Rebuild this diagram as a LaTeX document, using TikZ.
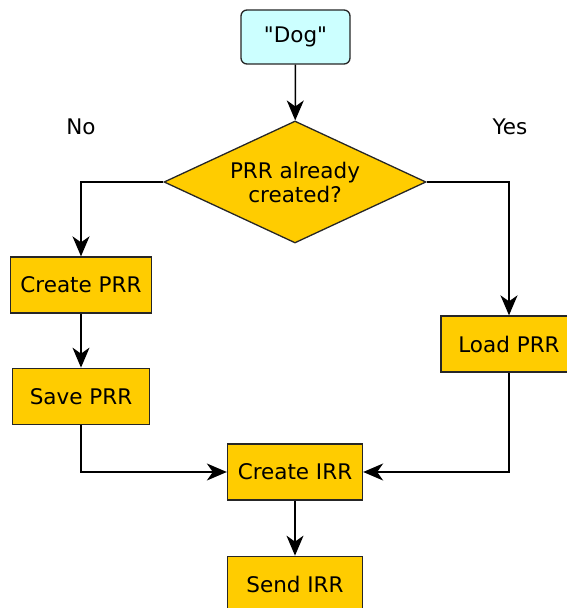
\documentclass[tikz,border=0pt]{standalone}
\usepackage{fontspec}
\setmainfont{DejaVu Sans}[Ligatures=TeXOff]
\usepackage{xcolor}
\usepackage{tikz}
\usetikzlibrary{arrows.meta,positioning,shapes.geometric}
\definecolor{boxyellow}{RGB}{255,204,0}
\definecolor{startcyan}{RGB}{204,255,255}
\tikzstyle{startbox}=[rectangle, rounded corners=6pt, draw=black!85, fill=startcyan,
  minimum width=109pt, minimum height=54pt, line width=1.3pt]
\tikzstyle{proc}=[rectangle, draw=black!85, fill=boxyellow,
  minimum height=56pt, line width=1.3pt, inner sep=0pt]
\tikzstyle{dec}=[diamond, draw=black!85, fill=boxyellow, aspect=2.15,
  minimum width=262pt, minimum height=122pt, inner sep=0pt, align=center, line width=1.3pt]
\tikzstyle{arrow}=[-{Stealth[length=20pt,width=17pt,inset=6pt]}, line width=1.5pt]

\begin{document}
\begin{tikzpicture}[x=1pt,y=1pt,font=\fontsize{21.5}{24}\selectfont]
\useasboundingbox (0,0) rectangle (567,608);
\node (start) [startbox] at (295.5,571) {"Dog"};
\node (dec) [dec] at (295,426) {PRR already\\created?};
\node (cprr) [proc, minimum width=141pt] at (81,323) {Create PRR};
\node (sprr) [proc, minimum width=137pt, below=54pt of cprr] {Save PRR};
\node (lprr) [proc, minimum width=136pt] at (509,264) {Load PRR};
\node (cirr) [proc, minimum width=135pt] at (295,136) {Create IRR};
\node (sirr) [proc, minimum width=135pt, below=55pt of cirr] {Send IRR};
\node (no) at (81,481) {No};
\node (yes) at (510,481) {Yes};

\draw[arrow] (start)--(dec);
\draw[arrow] (dec.west) -| (cprr.north);
\draw[arrow] (dec.east) -| (lprr.north);
\draw[arrow] (cprr)--(sprr);
\draw[arrow] (sprr.south) |- (cirr.west);
\draw[arrow] (lprr.south) |- (cirr.east);
\draw[arrow] (cirr)--(sirr);
\end{tikzpicture}
\end{document}
